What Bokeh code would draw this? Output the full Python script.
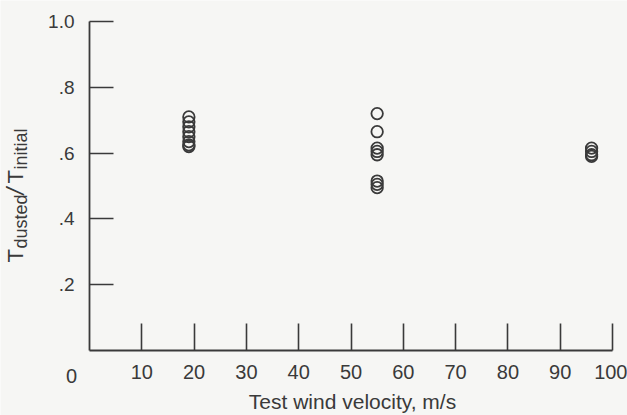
import math
from bokeh.plotting import figure
from bokeh.models import FixedTicker, Label, Range1d
from bokeh.embed import file_html
from bokeh.resources import INLINE

# ---- data ----
speed_a = 19
ratio_a = [0.71, 0.695, 0.68, 0.665, 0.65, 0.635, 0.625, 0.62]
speed_b = 55
ratio_b = [0.72, 0.665, 0.615, 0.605, 0.595, 0.515, 0.505, 0.495]
speed_c = 96
ratio_c = [0.615, 0.605, 0.595, 0.59]

x_ticks = [10, 20, 30, 40, 50, 60, 70, 80, 90, 100]
y_ticks = [0.2, 0.4, 0.6, 0.8, 1.0]
y_tick_labels = [".2", ".4", ".6", ".8", "1.0"]
x_title = "Test wind velocity, m/s"
origin_label = "0"

INK = "#3a3a3a"
BG = "#f6f6f4"
FONT = "Liberation Sans"

W, H = 627, 415
# pixel position of the axes box (x 0..100, y 0..1) on the canvas
AX_L, AX_R, AX_T, AX_B = 89, 612, 21, 350
KX = (AX_R - AX_L) / 100.0
KY = (AX_B - AX_T) / 1.0

x_range = Range1d(-AX_L / KX, 100 + (W - AX_R) / KX)
y_range = Range1d(-(H - AX_B) / KY, 1.0 + AX_T / KY)

p = figure(width=W, height=H, output_backend="svg", toolbar_location=None,
           x_range=x_range, y_range=y_range, min_border=0)
p.background_fill_color = BG
p.border_fill_color = BG
p.outline_line_color = None
p.grid.visible = False

xs = [speed_a] * len(ratio_a) + [speed_b] * len(ratio_b) + [speed_c] * len(ratio_c)
ys = ratio_a + ratio_b + ratio_c
p.scatter(xs, ys, marker="circle", size=11.5, fill_color=None,
          line_color=INK, line_width=1.8)

for ax in (p.xaxis[0], p.yaxis[0]):
    ax.fixed_location = 0
    ax.axis_line_color = INK
    ax.axis_line_width = 1.8
    ax.major_tick_line_color = INK
    ax.major_tick_line_width = 1.6
    ax.minor_tick_line_color = None
    ax.major_tick_out = 0
    ax.major_label_text_font = FONT
    ax.major_label_text_color = INK

p.xaxis.bounds = (0, 100)
p.xaxis.ticker = FixedTicker(ticks=x_ticks)
p.xaxis.major_tick_in = 27
p.xaxis.major_label_standoff = 14
p.xaxis.major_label_text_font_size = "20px"

p.yaxis.bounds = (0, 1.0)
p.yaxis.ticker = FixedTicker(ticks=y_ticks)
p.yaxis.major_label_overrides = {t: s for t, s in zip(y_ticks, y_tick_labels)}
p.yaxis.major_tick_in = 24
p.yaxis.major_label_standoff = 15
p.yaxis.major_label_text_font_size = "19px"

def dx(px):
    return (px - AX_L) / KX
def dy(py):
    return (AX_B - py) / KY

# origin "0"
p.add_layout(Label(x=dx(71), y=dy(375), text=origin_label, text_font=FONT,
                   text_font_size="20px", text_color=INK,
                   text_align="center", text_baseline="alphabetic"))

# x-axis title
p.add_layout(Label(x=dx(352), y=dy(401), text=x_title, text_font=FONT,
                   text_font_size="21px", text_color=INK,
                   text_align="center", text_baseline="alphabetic"))

# y-axis title: T_dusted / T_initial (rotated)
pieces = [
    ("T", "22px", "normal", 15, 262),
    ("dusted", "18px", "normal", 20, 248),
    ("/", "24px", "italic", 15, 194),
    ("T", "22px", "normal", 15, 183),
    ("initial", "18px", "normal", 20, 169),
]
for txt, size, style, bx, by in pieces:
    p.add_layout(Label(x=dx(bx), y=dy(by), text=txt, angle=math.pi / 2,
                       text_font=FONT, text_font_size=size, text_font_style=style,
                       text_color=INK, text_align="left", text_baseline="alphabetic"))

open("out.html", "w").write(file_html(p, INLINE))
